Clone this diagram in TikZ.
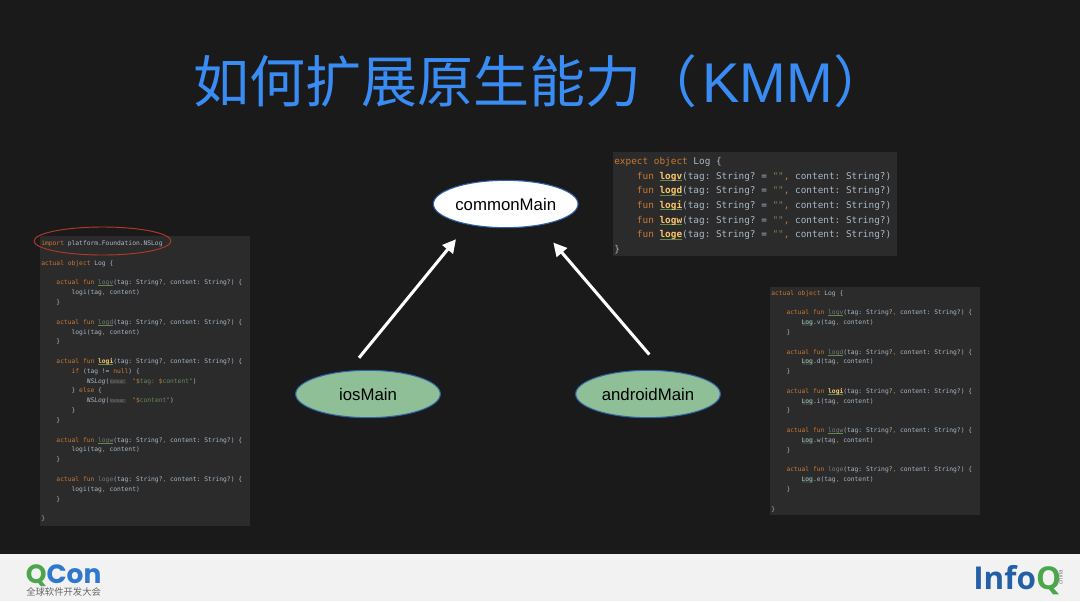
\documentclass[tikz,border=0pt]{standalone}
\usepackage{fontspec}
\usetikzlibrary{shapes.geometric, arrows.meta}
\setmainfont{Liberation Sans}
\newfontfamily\cjkfont{Noto Sans CJK SC}
\newfontfamily\codefont{DejaVu Sans Mono}
\newfontfamily\logofont{Open Sans}
\newfontfamily\qconfont{Poppins}
\definecolor{slidebg}{HTML}{1A1A1A}
\definecolor{footbg}{HTML}{F2F2F2}
\definecolor{titleblue}{HTML}{3A8CF5}
\definecolor{codebg}{HTML}{2B2B2B}
\definecolor{codetxt}{HTML}{A9B7C6}
\definecolor{codekw}{HTML}{CC7832}
\definecolor{codefn}{HTML}{FFC66D}
\definecolor{codestr}{HTML}{6A8759}
\definecolor{codedim}{HTML}{787878}
\definecolor{squig}{HTML}{5E8C4A}
\definecolor{mainblue}{HTML}{2F62A8}
\definecolor{maingreen}{HTML}{8FBF97}
\definecolor{qgreen}{HTML}{4CA64C}
\definecolor{qblue}{HTML}{2F78D0}
\definecolor{ired}{HTML}{B43A28}
\definecolor{iblue}{HTML}{2460A7}
\newcommand{\kw}[1]{\textcolor{codekw}{#1}}
\newcommand{\ind}{\phantom{0000}}
\newcommand{\cm}{\textcolor{codekw}{,}}
\newcommand{\squigline}{\rlap{\smash{\color{squig}\rule[-0.16em]{2.408em}{0.07em}}}}
\newcommand{\fnon}[1]{\squigline\textcolor{codefn}{\bfseries #1}}
\newcommand{\fnoff}[1]{\squigline\textcolor{codedim}{#1}}
\newcommand{\logbg}{\smash{\fboxsep=0pt\colorbox[HTML]{344134}{Log}}}
\newcommand{\hintbg}{\rlap{\smash{\fboxsep=0.4pt\colorbox[HTML]{3A3A3A}{\textcolor{codedim}{\fontsize{3.6}{4}\selectfont\rmfamily format:}}}}\phantom{000000}}
\newcommand{\expline}[1]{\ind\kw{fun} \fnon{#1}(tag: String? = \textcolor{codestr}{""}\cm{} content: String?)}
\newcommand{\actline}[1]{\ind\kw{actual fun} #1(tag: String?\cm{} content: String?) \{}
\tikzset{
  codebox/.style={rectangle, fill=codebg, anchor=north west, align=flush left, inner xsep=0.8pt, inner ysep=0pt, text=codetxt},
  srcnode/.style={ellipse, draw=mainblue, line width=0.8pt, minimum width=108.5pt, minimum height=35.5pt, inner sep=0pt, text=black, font=\fontsize{12.6}{15}\selectfont},
  flow/.style={-{Triangle[length=10pt,width=10pt]}, white, line width=2.3pt}
}
\begin{document}
\begin{tikzpicture}[x=0.75pt, y=-0.75pt, line join=round]
\useasboundingbox (0,0) rectangle (1080,601);
% Slide ground and footer
\fill[slidebg] (0,0) rectangle (1080,554);
\fill[footbg] (0,554) rectangle (1080,601);

% Title
\node[text=titleblue, anchor=west, inner sep=0pt, font=\cjkfont\fontsize{42}{50}\selectfont] (title) at (193,81) {如何扩展原生能力（\hspace{4pt}{\rmfamily KMM}）};

% Source sets
\node[srcnode, fill=white] (commonMain) at (505.7,204) {commonMain};
\node[srcnode, fill=maingreen] (iosMain) at (368,394) {iosMain};
\node[srcnode, fill=maingreen] (androidMain) at (648,394) {androidMain};
\draw[flow] ([shift={(-9,-12)}]iosMain.north) -- ([shift={(-49.7,11)}]commonMain.south);
\draw[flow] ([shift={(1.3,-15.3)}]androidMain.north) -- ([shift={(47.6,14.3)}]commonMain.south);

% Code of commonMain
\node[codebox, text width=211.4pt, minimum height=78pt, font=\codefont\frenchspacing\fontsize{7.04}{11.03}\selectfont] (codeCommon) at (613,152) {%
\rule{0pt}{7.5pt}\kw{expect object} Log \{\\
\expline{logv}\\
\expline{logd}\\
\expline{logi}\\
\expline{logw}\\
\expline{loge}\\
\}};

% Code of iosMain
\node[codebox, text width=156pt, minimum height=217.5pt, font=\codefont\frenchspacing\fontsize{4.72}{7.37}\selectfont] (codeIos) at (40,236) {%
\kw{import} platform.Foundation.NSLog\\
\strut\\
\kw{actual object} Log \{\\
\strut\\
\actline{\fnoff{logv}}\\
\ind\ind logi(tag\cm{} content)\\
\ind\}\\
\strut\\
\actline{\fnoff{logd}}\\
\ind\ind logi(tag\cm{} content)\\
\ind\}\\
\strut\\
\actline{\fnon{logi}}\\
\ind\ind\kw{if} (tag != \kw{null}) \{\\
\ind\ind\ind{\itshape NSLog}(\hintbg\textcolor{codestr}{"\textcolor{codekw}{\$}tag: \textcolor{codekw}{\$}content"})\\
\ind\ind\} \kw{else} \{\\
\ind\ind\ind{\itshape NSLog}(\hintbg\textcolor{codestr}{"\textcolor{codekw}{\$}content"})\\
\ind\ind\}\\
\ind\}\\
\strut\\
\actline{\fnoff{logw}}\\
\ind\ind logi(tag\cm{} content)\\
\ind\}\\
\strut\\
\actline{\textcolor{codedim}{loge}}\\
\ind\ind logi(tag\cm{} content)\\
\ind\}\\
\strut\\
\}};
\node[draw=ired, line width=0.7pt, ellipse, minimum width=102.7pt, minimum height=21pt, inner sep=0pt] (importMark) at (102.5,241) {};

% Code of androidMain
\node[codebox, text width=156pt, minimum height=171pt, font=\codefont\frenchspacing\fontsize{4.72}{7.37}\selectfont] (codeAndroid) at (770,287) {%
\kw{actual object} Log \{\\
\strut\\
\actline{\fnoff{logv}}\\
\ind\ind\logbg.v(tag\cm{} content)\\
\ind\}\\
\strut\\
\actline{\fnoff{logd}}\\
\ind\ind\logbg.d(tag\cm{} content)\\
\ind\}\\
\strut\\
\actline{\fnon{logi}}\\
\ind\ind\logbg.i(tag\cm{} content)\\
\ind\}\\
\strut\\
\actline{\fnoff{logw}}\\
\ind\ind\logbg.w(tag\cm{} content)\\
\ind\}\\
\strut\\
\actline{\textcolor{codedim}{loge}}\\
\ind\ind\logbg.e(tag\cm{} content)\\
\ind\}\\
\strut\\
\}};

% Footer logos
\node[inner sep=0pt, anchor=base west, text depth=0pt, font=\qconfont\bfseries\fontsize{19.8}{22}\selectfont] (qconLogo) at (25.5,583.3) {\textcolor{qgreen}{Q}\textcolor{qblue}{Con}};
\node[inner sep=0pt, anchor=base west, text height=5.6pt, text=black!60, font=\cjkfont\fontsize{7}{8}\selectfont] (qconText) at (26,595) {全球软件开发大会};
\node[inner sep=0pt, anchor=base west, font=\logofont\bfseries\fontsize{23.6}{26}\selectfont] (infoqLogo) at (973,589.5) {\textcolor{iblue}{Info}\textcolor{qgreen}{Q}};
\node[inner sep=0pt, rotate=90, text=black!50, font=\fontsize{4.6}{5}\selectfont] (infoqTag) at (1060.5,577) {china};
\end{tikzpicture}
\end{document}
